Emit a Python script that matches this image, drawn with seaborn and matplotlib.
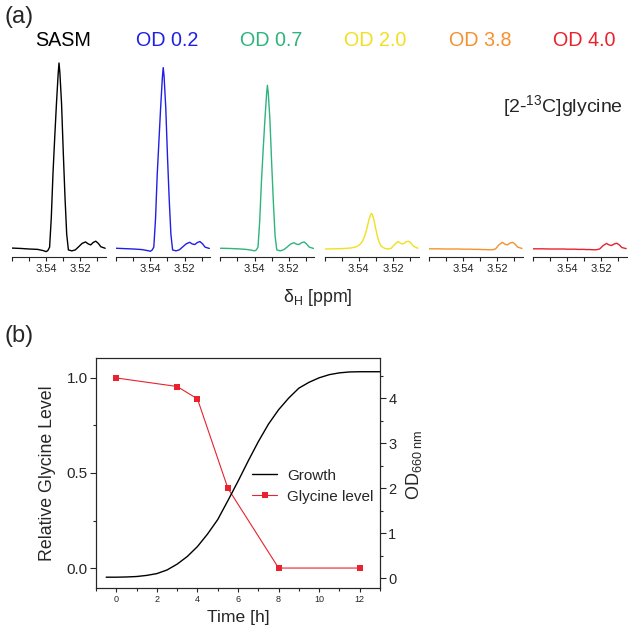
import matplotlib
matplotlib.use("Agg")
import matplotlib.pyplot as plt
from matplotlib.ticker import AutoMinorLocator, FormatStrFormatter
import pandas as pd
import seaborn as sns

# ---- (a) spectra, intensity normalised to the SASM peak ----
ppm = [3.560, 3.555, 3.550, 3.545, 3.542, 3.540, 3.539, 3.538, 3.537, 3.536,
       3.535, 3.534, 3.533, 3.5325, 3.532, 3.531, 3.530, 3.529, 3.528, 3.527,
       3.525, 3.523, 3.521, 3.519, 3.517, 3.5155, 3.514, 3.5125, 3.511, 3.5095,
       3.508, 3.5055]

sasm = [0.005, 0.003, 0.0, -0.002, -0.008, -0.014, -0.008, 0.01, 0.17, 0.41,
        0.60, 0.78, 0.94, 1.0, 0.95, 0.78, 0.52, 0.28, 0.08, -0.005,
        -0.01, -0.005, 0.012, 0.03, 0.038, 0.028, 0.022, 0.035, 0.042, 0.03,
        0.012, 0.004]
od02 = [0.004, 0.002, 0.0, -0.003, -0.008, -0.012, -0.006, 0.01, 0.16, 0.40,
        0.58, 0.76, 0.92, 0.975, 0.93, 0.76, 0.50, 0.27, 0.08, -0.005,
        -0.01, -0.004, 0.012, 0.028, 0.036, 0.027, 0.024, 0.035, 0.04, 0.028,
        0.01, 0.003]
od07 = [0.004, 0.003, 0.001, -0.002, -0.006, -0.01, -0.005, 0.01, 0.15, 0.36,
        0.53, 0.69, 0.83, 0.88, 0.84, 0.69, 0.46, 0.25, 0.07, -0.005,
        -0.01, -0.004, 0.01, 0.026, 0.034, 0.026, 0.024, 0.034, 0.038, 0.026,
        0.01, 0.003]
od20 = [0.0, 0.001, 0.002, 0.005, 0.01, 0.02, 0.028, 0.04, 0.058, 0.085,
        0.12, 0.16, 0.186, 0.19, 0.185, 0.15, 0.105, 0.065, 0.035, 0.016,
        0.004, 0.0, 0.004, 0.025, 0.04, 0.03, 0.027, 0.038, 0.042, 0.032,
        0.015, 0.004]
od38 = [0.001, 0.001, 0.0, 0.0, 0.0, -0.001, -0.001, -0.001, -0.001, -0.001,
        -0.001, -0.002, -0.002, -0.002, -0.002, -0.002, -0.002, -0.003, -0.003, -0.003,
        -0.004, -0.004, 0.0, 0.022, 0.036, 0.026, 0.022, 0.032, 0.036, 0.026,
        0.01, 0.003]
od40 = [0.001, 0.001, 0.0, 0.0, 0.0, -0.001, -0.001, -0.001, -0.001, -0.001,
        -0.001, -0.002, -0.002, -0.002, -0.002, -0.002, -0.002, -0.003, -0.003, -0.003,
        -0.004, -0.004, 0.0, 0.018, 0.03, 0.022, 0.019, 0.027, 0.031, 0.022,
        0.008, 0.002]

spec_names = ["SASM", "OD 0.2", "OD 0.7", "OD 2.0", "OD 3.8", "OD 4.0"]
spec_colors = ["#000000", "#1f1fe6", "#2eb47c", "#f2df1f", "#f5912f", "#e8222e"]
spectra = pd.DataFrame({"ppm": ppm, "SASM": sasm, "OD 0.2": od02, "OD 0.7": od07,
                        "OD 2.0": od20, "OD 3.8": od38, "OD 4.0": od40})
ppm_ticks = [3.56, 3.55, 3.54, 3.53, 3.52, 3.51]
ppm_ticklabels = ["", "", "3.54", "", "3.52", ""]

# ---- (b) growth and glycine ----
growth_t = [-0.5, 0, 0.5, 1, 1.5, 2, 2.5, 3, 3.5, 4, 4.5, 5, 5.5, 6, 6.5, 7, 7.5,
            8, 8.5, 9, 9.5, 10, 10.5, 11, 11.5, 12, 13]
growth_od = [0.02, 0.02, 0.025, 0.035, 0.06, 0.1, 0.18, 0.31, 0.48, 0.70, 0.98,
             1.30, 1.72, 2.15, 2.6, 3.03, 3.42, 3.74, 4.0, 4.22, 4.35, 4.45,
             4.52, 4.56, 4.58, 4.585, 4.585]
gly_t = [0, 3, 4, 5.5, 8, 12]
gly_level = [1.0, 0.955, 0.89, 0.42, 0.0, 0.0]

sns.set_theme(style="ticks")
plt.rcParams["font.family"] = ["Liberation Sans", "DejaVu Sans"]
plt.rcParams["mathtext.fontset"] = "custom"
plt.rcParams["mathtext.rm"] = "Liberation Sans"
plt.rcParams["mathtext.it"] = "Liberation Sans:italic"

W, H = 632, 633
fig = plt.figure(figsize=(W / 100, H / 100), dpi=100)


def box(left, top, w, h):
    return [left / W, 1 - (top + h) / H, w / W, h / H]


for i, name in enumerate(spec_names):
    left = 12 + i * 104.2
    ax = fig.add_axes(box(left, 55, 94, 202))
    sns.lineplot(data=spectra, x="ppm", y=name, color=spec_colors[i], lw=1.0, ax=ax)
    ax.set_xlim(3.56, 3.505)
    ax.set_ylim(-0.043, 1.043)
    ax.set_yticks([])
    ax.set_xticks(ppm_ticks)
    ax.set_xticklabels(ppm_ticklabels)
    ax.set_xlabel("")
    ax.set_ylabel("")
    for s in ["left", "top", "right"]:
        ax.spines[s].set_visible(False)
    ax.spines["bottom"].set_linewidth(0.8)
    ax.tick_params(axis="x", direction="out", length=3, width=0.8, pad=2,
                   labelsize=8, colors="#222222")
    ax.patch.set_alpha(0)
    fig.text((left + 51) / W, 1 - 41 / H, name, ha="center", va="center",
             fontsize=14.2, color=spec_colors[i])

fig.text(5 / W, 1 - 17 / H, "(a)", fontsize=17, va="center", ha="left")
fig.text(623 / W, 1 - 106 / H, r"[2-$^{13}$C]glycine", fontsize=14,
         ha="right", va="center")
fig.text(318 / W, 1 - 302 / H, r"δ$_{\mathrm{H}}$ [ppm]", fontsize=12.8,
         ha="center", va="baseline")
fig.text(5 / W, 1 - 336 / H, "(b)", fontsize=17, va="center", ha="left")

ax = fig.add_axes(box(96, 358, 284, 230))
ax2 = ax.twinx()
sns.lineplot(x=gly_t, y=gly_level, ax=ax, color="#e8222e", lw=0.8, marker="s",
             markersize=4.5, markeredgewidth=0, label="Glycine level", legend=False)
sns.lineplot(x=growth_t, y=growth_od, ax=ax2, color="black", lw=1.0,
             label="Growth", legend=False)

ax.set_xlim(-1, 13)
ax.set_ylim(-0.105, 1.105)
ax2.set_ylim(-0.22, 4.89)
ax.set_xticks(range(0, 13, 2))
ax.xaxis.set_minor_locator(AutoMinorLocator(2))
ax.set_yticks([0, 0.5, 1.0])
ax.yaxis.set_major_formatter(FormatStrFormatter("%.1f"))
ax.yaxis.set_minor_locator(AutoMinorLocator(2))
ax2.set_yticks(range(0, 5))
ax2.yaxis.set_minor_locator(AutoMinorLocator(2))

for a in (ax, ax2):
    for s in a.spines.values():
        s.set_linewidth(0.8)
ax.tick_params(axis="y", which="major", direction="out", length=4, width=0.8,
               labelsize=11, pad=2)
ax.tick_params(axis="y", which="minor", direction="out", length=2.2, width=0.8)
ax.tick_params(axis="x", which="major", direction="out", length=3, width=0.8,
               labelsize=6.5, pad=2)
ax.tick_params(axis="x", which="minor", direction="out", length=2, width=0.8)
ax2.tick_params(axis="y", which="major", direction="out", length=4, width=0.8,
                labelsize=10.5, pad=2)
ax2.tick_params(axis="y", which="minor", direction="out", length=2.2, width=0.8)

ax.set_xlabel("Time [h]", fontsize=12.6)
ax.xaxis.set_label_coords(0.5, -0.095)
ax.set_ylabel("Relative Glycine Level", fontsize=12.8)
ax.yaxis.set_label_coords(-0.14, 0.5)
ax2.set_ylabel(r"OD$_{660\ \mathrm{nm}}$", fontsize=13, rotation=90)
ax2.yaxis.set_label_coords(1.085, 0.535)
ax2.yaxis.label.set_va("top")

handles = [ax2.lines[0], ax.lines[0]]
ax2.legend(handles, ["Growth", "Glycine level"], loc="center left",
           bbox_to_anchor=(0.549, 0.443), frameon=False, fontsize=11,
           handlelength=1.65, handletextpad=0.65, labelspacing=0.45,
           borderpad=0, borderaxespad=0)

fig.savefig("out.png", dpi=100)
